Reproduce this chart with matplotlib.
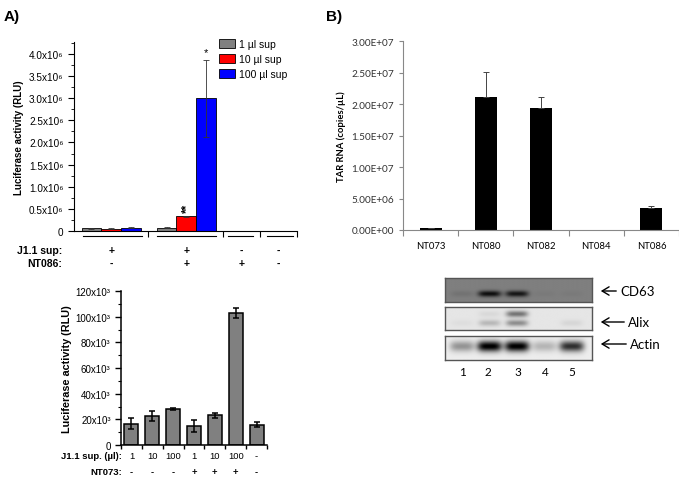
import numpy as np
import matplotlib
matplotlib.use("Agg")
import matplotlib.pyplot as plt
from matplotlib.patches import Patch
from matplotlib.ticker import MultipleLocator, FixedLocator
import matplotlib.transforms as mtransforms

plt.rcParams['font.family'] = ['Liberation Sans', 'DejaVu Sans']

# ---- panel A (top): luciferase, 4 conditions x 3 volumes (x10^6 RLU)
a_groups = ['g1', 'g2', 'g3', 'g4']
a_j11 = ['+', '+', '-', '-']
a_nt086 = ['-', '+', '+', '-']
a_volumes = ['1 µl sup', '10 µl sup', '100 µl sup']
a_vals = {
    '1 µl sup':   [0.06, 0.07, 0.0, 0.0],
    '10 µl sup':  [0.05, 0.33, 0.0, 0.0],
    '100 µl sup': [0.07, 3.00, 0.0, 0.0],
}
a_errs = {
    '1 µl sup':   [0.01, 0.01, 0.0, 0.0],
    '10 µl sup':  [0.01, 0.02, 0.0, 0.0],
    '100 µl sup': [0.01, 0.87, 0.0, 0.0],
}
a_yticks = [0, 0.5, 1.0, 1.5, 2.0, 2.5, 3.0, 3.5, 4.0]

# ---- panel A (bottom): luciferase with NT073 (x10^3 RLU)
b_j11 = ['1', '10', '100', '1', '10', '100', '-']
b_nt073 = ['-', '-', '-', '+', '+', '+', '-']
b_vals = [16.6, 22.5, 28.3, 14.8, 23.0, 103.0, 15.8]
b_errs = [4.5, 4.0, 0.7, 4.5, 1.8, 4.0, 2.0]

# ---- panel B: TAR RNA copies
c_samples = ['NT073', 'NT080', 'NT082', 'NT084', 'NT086']
c_vals = [3.0e5, 2.11e7, 1.93e7, 0.0, 3.45e6]
c_errs = [0.5e5, 4.0e6, 1.8e6, 0.0, 4.0e5]

# ---- western blot band intensities per lane
blot_lanes = ['1', '2', '3', '4', '5']
cd63_bands = [0.05, 0.45, 0.42, 0.02, 0.02]
alix_upper = [0.0, 0.05, 0.45, 0.0, 0.0]
alix_lower = [0.03, 0.18, 0.35, 0.0, 0.06]
actin_bands = [0.35, 0.95, 0.95, 0.22, 0.75]

W, H = 679, 481
fig = plt.figure(figsize=(W / 100, H / 100), dpi=100)


def fax(x0, y0, x1, y1):
    return fig.add_axes([x0 / W, 1 - y1 / H, (x1 - x0) / W, (y1 - y0) / H])


def fy(y):
    return H - y


# ================= Panel A top =================
ax = fax(74, 43, 297, 232)
centers = [1.0, 3.02, 4.5, 5.5]
colors = ['#808080', '#ff0000', '#0000ff']
bw = 0.53
for i, vol in enumerate(a_volumes):
    xs = [c + (i - 1) * bw for c in centers[:2]]
    ax.bar(xs, a_vals[vol][:2], bw, color=colors[i], edgecolor='black', linewidth=0.6)
    ax.errorbar(xs, a_vals[vol][:2], yerr=a_errs[vol][:2], fmt='none',
                ecolor='#333333', elinewidth=0.6, capsize=2, capthick=0.6)
ax.set_xlim(0, 6)
ax.set_ylim(0, 4.27)
ax.spines['top'].set_visible(False)
ax.spines['right'].set_visible(False)
ax.xaxis.set_major_locator(FixedLocator([2, 4, 5, 6]))
ax.set_xticklabels([])
ax.tick_params(axis='x', direction='out', length=4, width=0.8)
ax.set_yticks(a_yticks)
ax.set_yticklabels(['0'] + ['%.1fx10⁶' % v for v in a_yticks[1:]], fontsize=7.2)
ax.yaxis.set_minor_locator(MultipleLocator(0.25))
ax.tick_params(axis='y', which='major', length=4, width=0.8)
ax.tick_params(axis='y', which='minor', length=2, width=0.6)
ax.set_ylabel('Luciferase activity (RLU)', fontsize=7, fontweight='bold', labelpad=4)
ax.text(centers[1] + bw, 3.93, '*', ha='center', va='bottom', fontsize=8)
ax.text(centers[1] + 0.02, 0.42, '**', ha='center', va='bottom', fontsize=8.5,
        rotation=90, fontweight='bold')

# group underlines
trans = mtransforms.blended_transform_factory(ax.transData, ax.transAxes)
for x0, x1 in [(0.24, 1.84), (2.24, 3.83), (4.15, 4.82), (5.2, 5.88)]:
    ax.plot([x0, x1], [-0.025, -0.025], color='black', lw=0.8,
            transform=trans, clip_on=False)

handles = [Patch(facecolor=c, edgecolor='black', linewidth=0.6) for c in colors]
ax.legend(handles, a_volumes, loc='upper left', frameon=False, fontsize=7.5,
          bbox_to_anchor=(219 / W, 1 - 40 / H), bbox_transform=fig.transFigure,
          borderaxespad=0, borderpad=0, handlelength=1.5, handleheight=0.95,
          handletextpad=0.4, labelspacing=0.45)

fig.text(62 / W, 1 - 251 / H, 'J1.1 sup:', ha='right', va='center', fontsize=7.5, fontweight='bold')
fig.text(62 / W, 1 - 264 / H, 'NT086:', ha='right', va='center', fontsize=7.5, fontweight='bold')
for c, s1, s2 in zip(centers, a_j11, a_nt086):
    xp = ax.transData.transform((c, 0))[0]
    fig.text(xp / W, 1 - 251 / H, s1, ha='center', va='center', fontsize=7.5, fontweight='bold')
    fig.text(xp / W, 1 - 264 / H, s2, ha='center', va='center', fontsize=7.5, fontweight='bold')

# ================= Panel A bottom =================
ax2 = fax(121, 292, 267, 446)
xb = np.arange(len(b_vals))
ax2.bar(xb, b_vals, 0.67, color='#808080', edgecolor='black', linewidth=1.1)
ax2.errorbar(xb, b_vals, yerr=b_errs, fmt='none', ecolor='black',
             elinewidth=1.1, capsize=2, capthick=1.1)
ax2.set_xlim(-0.5, 6.5)
ax2.set_ylim(0, 120)
ax2.spines['top'].set_visible(False)
ax2.spines['right'].set_visible(False)
ax2.spines['left'].set_linewidth(1.1)
ax2.spines['bottom'].set_linewidth(1.1)
ax2.set_xticks(np.arange(-0.5, 7, 1))
ax2.set_xticklabels([])
ax2.tick_params(axis='x', length=3, width=1.0)
ax2.set_yticks(range(0, 121, 20))
ax2.set_yticklabels(['0'] + ['%dx10³' % v for v in range(20, 121, 20)], fontsize=7)
ax2.yaxis.set_minor_locator(MultipleLocator(10))
ax2.tick_params(axis='y', which='major', length=4, width=1.0)
ax2.tick_params(axis='y', which='minor', length=2, width=0.8)
ax2.set_ylabel('Luciferase activity (RLU)', fontsize=7.8, fontweight='bold', labelpad=3)

fig.text(122 / W, 1 - 457 / H, 'J1.1 sup. (µl):', ha='right', va='center', fontsize=6.8, fontweight='bold')
fig.text(122 / W, 1 - 473 / H, 'NT073:', ha='right', va='center', fontsize=6.8, fontweight='bold')
for i, (s1, s2) in enumerate(zip(b_j11, b_nt073)):
    xp = ax2.transData.transform((i, 0))[0]
    fig.text(xp / W, 1 - 457 / H, s1, ha='center', va='center', fontsize=6.8)
    fig.text(xp / W, 1 - 473 / H, s2, ha='center', va='center', fontsize=6.8, fontweight='bold')

# ================= Panel B =================
ax3 = fax(403, 42, 679, 231)
xc = np.arange(len(c_samples))
ax3.bar(xc, c_vals, 0.4, color='black')
ax3.errorbar(xc, c_vals, yerr=[np.zeros(len(c_errs)), c_errs], fmt='none',
             ecolor='#444444', elinewidth=0.7, capsize=2, capthick=0.7)
ax3.set_xlim(-0.5, 4.5)
ax3.set_ylim(0, 3.0e7)
for s in ['top', 'right']:
    ax3.spines[s].set_visible(False)
for s in ['left', 'bottom']:
    ax3.spines[s].set_color('#888888')
    ax3.spines[s].set_linewidth(0.8)
ax3.set_xticks(np.arange(-0.5, 5, 1))
ax3.set_xticklabels([])
ax3.set_xticks(xc, minor=True)
ax3.set_xticklabels(c_samples, minor=True, fontsize=6.8, family=['Lato', 'DejaVu Sans'])
ax3.tick_params(axis='x', which='major', length=4, color='#888888')
ax3.tick_params(axis='x', which='minor', length=0, pad=8)
ax3.set_yticks(np.arange(0, 3.01e7, 5e6))
ax3.set_yticklabels(['%.2fE+%02d' % (v / 10 ** int(np.floor(np.log10(v))), int(np.floor(np.log10(v))))
                     if v > 0 else '0.00E+00' for v in np.arange(0, 3.01e7, 5e6)],
                    fontsize=7.2, family=['Lato', 'DejaVu Sans'], color='#333333')
ax3.tick_params(axis='y', length=3, color='#888888')
ax3.set_ylabel('TAR RNA (copies/µL)', fontsize=6.8, fontweight='bold',
               family=['Lato', 'DejaVu Sans'], labelpad=4)

# ================= Western blot =================
def blot(y0, y1, bands_list, rows_c, bg, widths):
    axb = fax(445, y0, 592, y1)
    nx, ny = 300, 60
    xs = np.linspace(0.38, 5.73, nx)
    ys = np.linspace(0, 1, ny)
    X, Y = np.meshgrid(xs, ys)
    img = np.full((ny, nx), bg)
    for bands, yc, (wx, wy) in zip(bands_list, rows_c, widths):
        for lane, b in enumerate(bands, start=1):
            img += b * np.exp(-((X - lane) / wx) ** 4 - ((Y - yc) / wy) ** 2)
    axb.imshow(np.clip(img, 0, 1), cmap='gray_r', vmin=0, vmax=1, aspect='auto',
               extent=[0.38, 5.73, 1, 0], interpolation='bilinear')
    axb.set_xticks([])
    axb.set_yticks([])
    for s in axb.spines.values():
        s.set_color('#555555')
        s.set_linewidth(1.0)
    return axb


blot(279, 303, [cd63_bands], [0.66], 0.5, [(0.42, 0.13)])
blot(308, 331, [alix_upper, alix_lower], [0.3, 0.7], 0.1, [(0.4, 0.14), (0.4, 0.14)])
blot(337, 361, [actin_bands], [0.45], 0.07, [(0.45, 0.22)])

lane_x = [462, 488, 518, 545, 572]
for lx, lab in zip(lane_x, blot_lanes):
    fig.text(lx / W, 1 - 372 / H, lab, ha='center', va='center', fontsize=8.5,
             family=['Lato', 'DejaVu Sans'])

for label, y, x_end in [('CD63', 292, 619), ('Alix', 323, 627), ('Actin', 345, 629)]:
    fig.add_artist(matplotlib.patches.FancyArrowPatch(
        (x_end, fy(y)), (598, fy(y)), transform=None,
        arrowstyle='->,head_length=5,head_width=3', color='black', lw=1.0,
        mutation_scale=1))
    fig.text((x_end + 1) / W, 1 - y / H, label, ha='left', va='center', fontsize=9.5,
             family=['Lato', 'DejaVu Sans'])

fig.text(4 / W, 1 - 17 / H, 'A)', ha='left', va='center', fontsize=11, fontweight='bold')
fig.text(326 / W, 1 - 17 / H, 'B)', ha='left', va='center', fontsize=11, fontweight='bold')

fig.savefig('out.png', dpi=100, facecolor='white')
